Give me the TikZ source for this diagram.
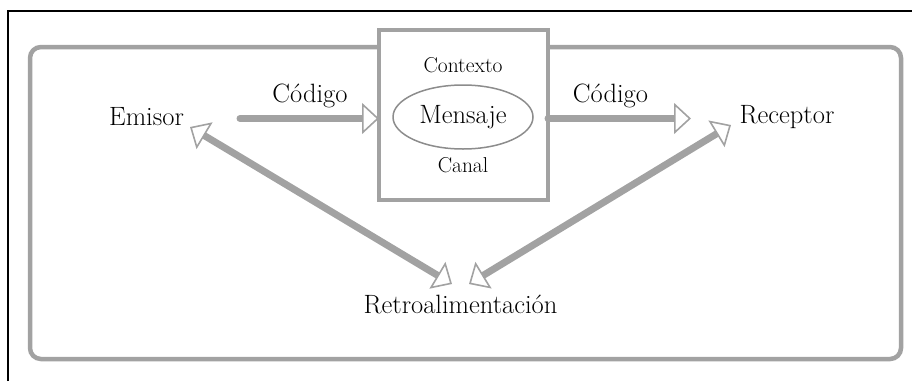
\documentclass[tikz,border=0pt]{standalone}
\usetikzlibrary{arrows.meta,shapes.geometric}
\definecolor{lgray}{RGB}{162,162,162}
\definecolor{egray}{RGB}{140,140,140}
\tikzset{
  big/.style={font=\fontsize{26.5}{30}\selectfont, inner sep=0pt, anchor=base},
  small/.style={font=\fontsize{21.5}{24}\selectfont, inner sep=0pt, anchor=base},
  frameline/.style={draw=lgray, line width=4.5pt},
  shaft/.style={draw=lgray, line width=7pt, line cap=round},
  ohead/.tip={Triangle[length=17pt, width=31pt, fill=white, line width=1.6pt]},
}
\begin{document}
\begin{tikzpicture}[x=1pt, y=-1pt]
\useasboundingbox (0,0) rectangle (912,381);
% black partial frame
\draw[line width=1.8pt] (8,381) -- (8,11) -- (912,11);
% gray rounded frame
\draw[frameline, rounded corners=11pt] (30,47) rectangle (901,359);
% central box
\node[frameline, fill=white, rectangle, minimum width=169pt, minimum height=170pt, inner sep=0pt, outer sep=0pt] (box) at (463.5,115) {};
\node[ellipse, draw=egray, line width=1.5pt, minimum width=140pt, minimum height=64pt, inner sep=0pt, font=\fontsize{26.5}{30}\selectfont] (msg) at (463,117) {Mensaje};
\node[small] (ctx) at (463,72) {Contexto};
\node[small] (can) at (463,172) {Canal};
% labels
\node[big] (emi) at (146.5,125) {Emisor};
\node[big] (rec) at (787,123) {Receptor};
\node[big] (cod1) at (310,102) {Código};
\node[big] (cod2) at (610.5,102) {Código};
\node[big] (retro) at (460.5,313) {Retroalimentación};
% coordinates for free ends
\coordinate (a1) at (240,118.5);
\coordinate (a2) at (691,118.5);
\coordinate (e1) at (190,127);
\coordinate (f1) at (452,284);
\coordinate (r1) at (731,125);
\coordinate (f2) at (469,284);
% horizontal arrows
\draw[shaft, -{ohead}] (a1) -- (a1 -| box.west);
\draw[shaft, -{ohead}] (a1 -| box.east) -- (a2);
% diagonal double arrows
\draw[draw=lgray, line width=7pt, {ohead}-{ohead}] (e1) -- (f1);
\draw[draw=lgray, line width=7pt, {ohead}-{ohead}] (r1) -- (f2);
\end{tikzpicture}
\end{document}
